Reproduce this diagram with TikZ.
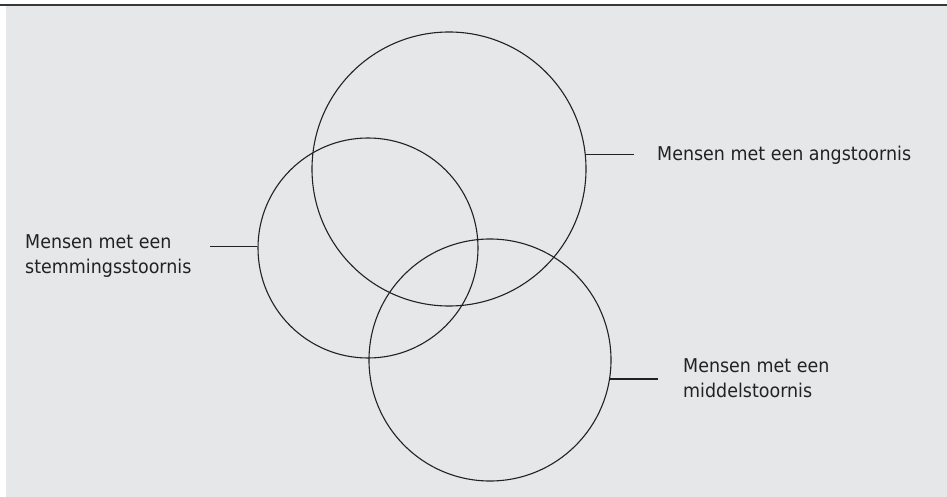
\documentclass[tikz,border=0pt]{standalone}
\usepackage{fontspec}
\setmainfont{DejaVu Sans}[FakeStretch=0.92]
\usepackage{xcolor}
\usetikzlibrary{positioning}
\definecolor{panelgray}{HTML}{E6E7E8}
\definecolor{inkgray}{HTML}{222222}

\begin{document}
\begin{tikzpicture}[
    x=1pt, y=-1pt,
    venn/.style={circle, draw=inkgray, line width=1.1pt, inner sep=0pt},
    label/.style={anchor=north west, inner sep=0pt, align=left, text=inkgray, font=\fontsize{19}{25}\selectfont},
    connector/.style={draw=inkgray, line width=1.1pt},
    topline/.style={draw=inkgray!90, line width=1.3pt}
]
\useasboundingbox (0,0) rectangle (947,497);

% Panel
\fill[panelgray] (6,5) rectangle (947,497);
\draw[topline] (0,5) -- (947,5);

% Circles
\node[venn, minimum size=274pt] (angst) at (449,169) {};
\node[venn, minimum size=220pt] (stemming) at (368,248) {};
\node[venn, minimum size=242pt] (middel) at (490,360) {};

% Labels
\node[label] (lblangst) at (657,146) {Mensen met een angstoornis};
\node[label] (lblstemming) at (25,234) {Mensen met een\\stemmingsstoornis};
\node[label] (lblmiddel) at (683,358) {Mensen met een\\middelstoornis};

% Free ends of the connectors
\coordinate (endangst) at (634,154);
\coordinate (endstemming) at (210,250);
\coordinate (endmiddel) at (658,380);

% Connectors
\draw[connector] (angst.6.3) -- (angst.6.3 -| endangst);
\draw[connector] (stemming.179) -- (stemming.179 -| endstemming);
\draw[connector] (middel.-9.5) -- (middel.-9.5 -| endmiddel);

\end{tikzpicture}
\end{document}
